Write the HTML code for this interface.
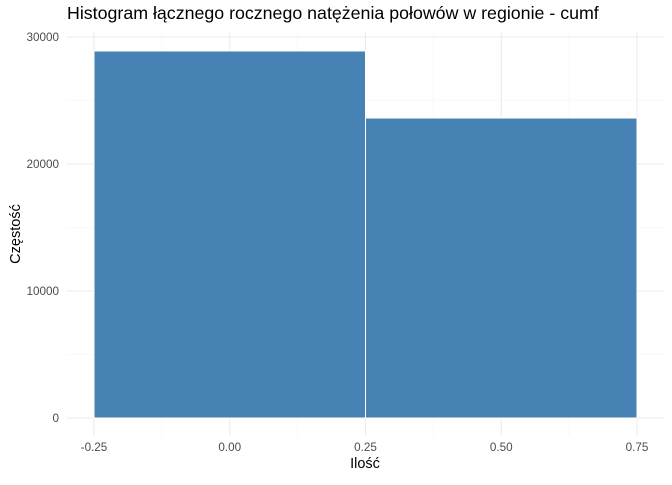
<!DOCTYPE html>
<html><head><meta charset="utf-8"><style>
body{margin:0;background:#fff;}
svg text{font-family:"Liberation Sans",sans-serif;}
</style></head><body>
<svg id="chart" width="672" height="480"></svg>
<script>
const binEdges=[-0.25,0.25,0.75];
const counts=[28900,23620];
const xTicks=[-0.25,0,0.25,0.5,0.75];
const xTickLabels=["-0.25","0.00","0.25","0.50","0.75"];
const yTicks=[0,10000,20000,30000];
const yTickLabels=["0","10000","20000","30000"];
const NS="http://www.w3.org/2000/svg";
const svg=document.getElementById('chart');
const X=v=>229.75+v*543;
const Y=v=>418-v*0.0127;
function mk(t,a,p){const e=document.createElementNS(NS,t);for(const k in a)e.setAttribute(k,a[k]);(p||svg).appendChild(e);return e;}
const L=67,R=664,T=32,B=436;
const grid=mk('g',{});


for(let i=0;i<yTicks.length;i++){
 mk('line',{x1:L,x2:R,y1:Y(yTicks[i]),y2:Y(yTicks[i]),stroke:'#ebebeb','stroke-width':1.1},grid);
 if(i<yTicks.length-1){const m=(yTicks[i]+yTicks[i+1])/2;mk('line',{x1:L,x2:R,y1:Y(m),y2:Y(m),stroke:'#f3f3f3','stroke-width':0.6},grid);}
}
for(let i=0;i<xTicks.length;i++){
 mk('line',{x1:X(xTicks[i]),x2:X(xTicks[i]),y1:T,y2:B,stroke:'#ebebeb','stroke-width':1.1},grid);
 if(i<xTicks.length-1){const m=(xTicks[i]+xTicks[i+1])/2;mk('line',{x1:X(m),x2:X(m),y1:T,y2:B,stroke:'#f3f3f3','stroke-width':0.6},grid);}
}
for(let i=0;i<counts.length;i++){
 const r=mk('rect',{x:X(binEdges[i]),y:Y(counts[i]),width:X(binEdges[i+1])-X(binEdges[i]),height:Y(0)-Y(counts[i]),fill:'#4682b4',stroke:'#fff','stroke-width':1});
 
 
}
for(let i=0;i<yTicks.length;i++){
 const t=mk('text',{x:59,y:Y(yTicks[i])+4,'text-anchor':'end','font-size':11.7,fill:'#4d4d4d'});
 t.textContent=yTickLabels[i];
 
 
}
for(let i=0;i<xTicks.length;i++){
 const t=mk('text',{x:X(xTicks[i]),y:451,'text-anchor':'middle','font-size':11.7,fill:'#4d4d4d'});
 t.textContent=xTickLabels[i];
 
 
}
</script>
<div style="position:absolute;left:0;top:0;width:672px;height:480px;pointer-events:none;font-family:'Liberation Sans',sans-serif;">
<div style="position:absolute;left:67px;top:3px;font-size:17.8px;color:#000;white-space:nowrap;">Histogram łącznego rocznego natężenia połowów w regionie - cumf</div>
<div style="position:absolute;left:365px;top:456px;transform:translateX(-50%);font-size:14.5px;">Ilość</div>
<div style="position:absolute;left:16px;top:234px;transform:translate(-50%,-50%) rotate(-90deg);font-size:14.5px;white-space:nowrap;">Częstość</div>
</div>
</body></html>
